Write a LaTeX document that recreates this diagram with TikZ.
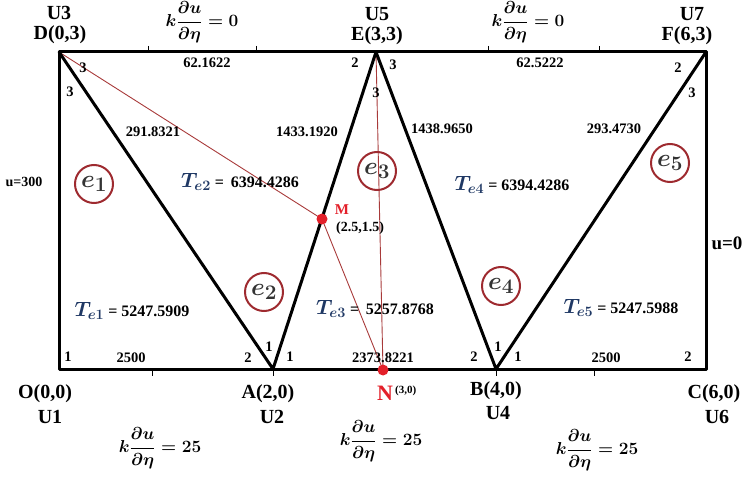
\documentclass[tikz,border=0pt]{standalone}
\usepackage{fontspec}
\setmainfont{Liberation Serif}
\usepackage{amsmath,bm}
\definecolor{navyT}{HTML}{1F3864}
\definecolor{circ}{HTML}{9E2A2F}
\definecolor{redline}{HTML}{A83A3A}
\definecolor{reddot}{HTML}{E3202A}
\newcommand{\Tlab}[2]{\textcolor{navyT}{\fontsize{20}{22}\selectfont\boldmath$T_{#1}$}#2}
\begin{document}
\begin{tikzpicture}[x=1pt,y=-1pt]
\tikzset{
 edge/.style={line width=3pt, line cap=round, line join=round},
 vlab/.style={font=\fontsize{20}{22}\selectfont\bfseries, inner sep=0},
 num/.style={font=\fontsize{14.5}{16}\selectfont\bfseries, inner sep=0},
 elem/.style={circle, draw=circ, line width=2pt, minimum size=38pt, inner sep=0, font=\fontsize{30}{32}\selectfont\boldmath, text=black!80},
 tlab/.style={font=\fontsize{16}{18}\selectfont\bfseries, inner sep=0},
 redln/.style={draw=redline, line width=0.9pt},
 dot/.style={circle, fill=reddot, minimum size=11pt, inner sep=0},
 tickmark/.style={line width=1pt},
 flux/.style={font=\fontsize{16}{18}\selectfont\boldmath, inner sep=0},
}
\useasboundingbox (0,0) rectangle (746,478);
% vertices
\coordinate (D) at (59,52);
\coordinate (E) at (376,52);
\coordinate (F) at (706,52);
\coordinate (O) at (59,369);
\coordinate (A) at (273,369);
\coordinate (N) at (383,370);
\coordinate (B) at (496,369);
\coordinate (C) at (706,369);
\coordinate (M) at (322,219);
% ticks
\foreach \x [count=\i] in {148,256,488,599} {\coordinate (tt\i) at (\x,46); \coordinate (tb\i) at (\x,53); \draw[tickmark] (tt\i) -- (tb\i);}
\foreach \x [count=\i] in {152,273,496,594} {\coordinate (bt\i) at (\x,368); \coordinate (bb\i) at (\x,376); \draw[tickmark] (bt\i) -- (bb\i);}
% red lines
\draw[redln] (D) -- (M) -- (N);
\draw[redln] (E) -- (N);
% mesh
\draw[edge] (D) -- (F) -- (C) -- (O) -- cycle;
\draw[edge] (D) -- (A) -- (E) -- (B) -- (F);
% dots
\node[dot] (Mdot) at (M) {};
\node[dot] (Ndot) at (N) {};
% vertex labels
\node[vlab] (U3) at (59,13) {U3};
\node[vlab] (Dl) at (60,35) {D(0,3)};
\node[vlab] (U5) at (377,14) {U5};
\node[vlab] (El) at (377,36) {E(3,3)};
\node[vlab] (U7) at (692,14) {U7};
\node[vlab] (Fl) at (687,36) {F(6,3)};
\node[vlab] (Ol) at (45,394) {O(0,0)};
\node[vlab] (U1) at (50,417) {U1};
\node[vlab] (Al) at (268,394) {A(2,0)};
\node[vlab] (U2) at (272,417) {U2};
\node[vlab, font=\fontsize{22}{24}\selectfont\bfseries, text=reddot] (Nl) at (385,393) {N};
\node[num, font=\fontsize{11}{12}\selectfont\bfseries, anchor=west] (Nc) at (395,391) {(3,0)};
\node[vlab] (Bl) at (496,391) {B(4,0)};
\node[vlab] (U4) at (498,413) {U4};
\node[vlab] (Cl) at (714,394) {C(6,0)};
\node[vlab] (U6) at (717,417) {U6};
\node[font=\fontsize{15}{17}\selectfont\bfseries, text=reddot, inner sep=0] (Ml) at (342,210) {M};
\node[num, font=\fontsize{14}{16}\selectfont\bfseries] (Mc) at (360,228) {(2.5,1.5)};
% boundary values
\node[num, font=\fontsize{14}{16}\selectfont\bfseries] (u300) at (24,182) {u=300};
\node[vlab, font=\fontsize{19}{21}\selectfont\bfseries] (u0) at (727,243) {u=0};
% local node numbers
\node[num] (n1) at (83,68) {3};
\node[num] (n2) at (70,92) {3};
\node[num] (n3) at (355,63) {2};
\node[num] (n4) at (393,65) {3};
\node[num] (n5) at (376,93) {3};
\node[num] (n6) at (678,68) {2};
\node[num] (n7) at (692,93) {3};
\node[num] (n8) at (68,357) {1};
\node[num] (n9) at (248,358) {2};
\node[num] (n10) at (269,347) {1};
\node[num] (n11) at (290,357) {1};
\node[num] (n12) at (474,357) {2};
\node[num] (n13) at (498,347) {1};
\node[num] (n14) at (518,357) {1};
\node[num] (n15) at (688,357) {2};
% edge values
\node[num] (v1) at (207,63) {62.1622};
\node[num] (v2) at (540,63) {62.5222};
\node[num] (v3) at (153,132) {291.8321};
\node[num] (v4) at (307,132) {1433.1920};
\node[num] (v5) at (442,129) {1438.9650};
\node[num] (v6) at (614,129) {293.4730};
\node[num] (v7) at (131,358) {2500};
\node[num] (v8) at (383,358) {2373.8221};
\node[num] (v9) at (606,358) {2500};
% element circles
\node[elem] (e1) at (94,184) {$e_1$};
\node[elem] (e2) at (264,292) {$e_2$};
\node[elem] (e3) at (377,171) {$e_3$};
\node[elem] (e4) at (501,286) {$e_4$};
\node[elem] (e5) at (670,163) {$e_5$};
% element temperatures
\node[tlab] (T1) at (132,311) {\Tlab{e1}{ = 5247.5909}};
\node[tlab] (T2) at (240,182) {\Tlab{e2}{ = \,6394.4286}};
\node[tlab] (T3) at (375,309) {\Tlab{e3}{ = \,5257.8768}};
\node[tlab] (T4) at (512,185) {\Tlab{e4}{ = 6394.4286}};
\node[tlab] (T5) at (621,308) {\Tlab{e5}{ = 5247.5988}};
% flux conditions
\node[flux] (q1) at (202,22) {$k\dfrac{\partial u}{\partial \eta} = 0$};
\node[flux] (q2) at (528,22) {$k\dfrac{\partial u}{\partial \eta} = 0$};
\node[flux] (q3) at (160,448) {$k\dfrac{\partial u}{\partial \eta} = 25$};
\node[flux] (q4) at (381,441) {$k\dfrac{\partial u}{\partial \eta} = 25$};
\node[flux] (q5) at (597,450) {$k\dfrac{\partial u}{\partial \eta} = 25$};
\end{tikzpicture}
\end{document}
